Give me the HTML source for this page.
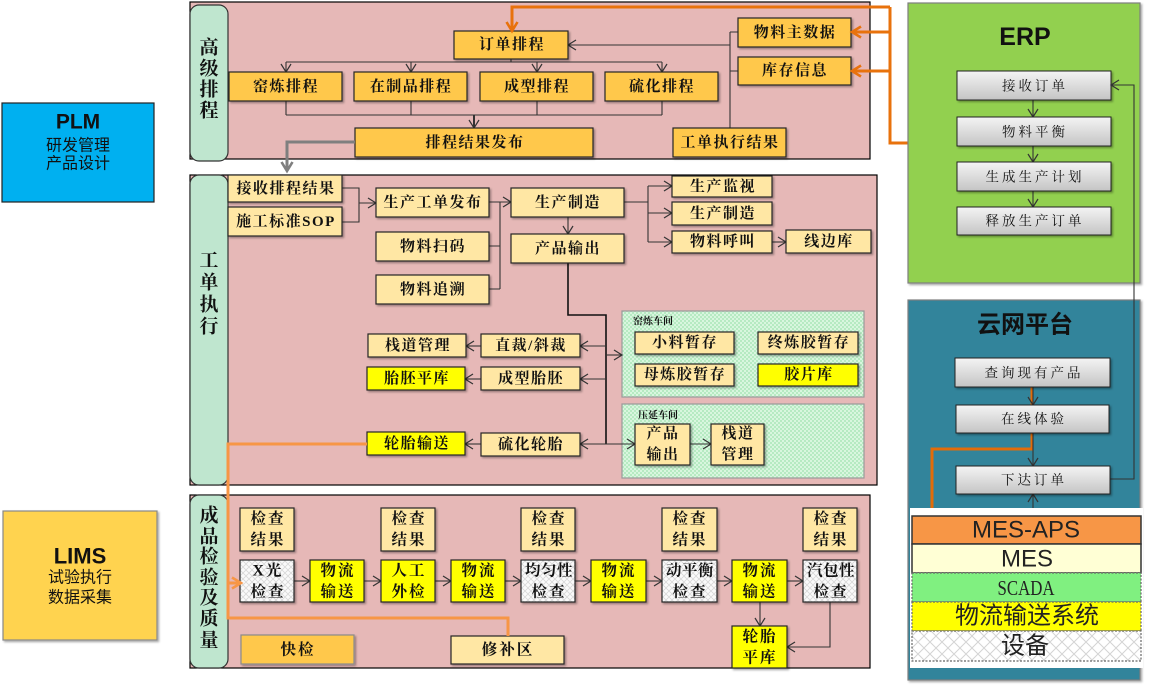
<!DOCTYPE html>
<html><head><meta charset="utf-8">
<style>
html,body{margin:0;padding:0;background:#fff;}
svg{display:block;}
text{dominant-baseline:central;text-anchor:middle;}
.b{font-family:"Liberation Serif","Noto Serif CJK SC",serif;font-weight:700;font-size:15px;fill:#111;letter-spacing:1.5px;}
.b2{font-family:"Liberation Serif","Noto Serif CJK SC",serif;font-weight:700;font-size:15.5px;fill:#111;letter-spacing:2px;}
.v{font-family:"Liberation Serif","Noto Serif CJK SC",serif;font-weight:700;font-size:19px;fill:#111;}
.g{font-family:"Liberation Serif","Noto Serif CJK SC",serif;font-size:13.5px;fill:#111;letter-spacing:3px;}
.sm{font-family:"Liberation Serif","Noto Serif CJK SC",serif;font-weight:700;font-size:10px;fill:#111;text-anchor:start;}
.ttl{font-family:"Liberation Sans","Noto Sans CJK SC",sans-serif;font-weight:700;fill:#111;}
.cn{font-family:"Liberation Sans","Noto Sans CJK SC",sans-serif;font-size:16px;fill:#111;}
.st{font-family:"Liberation Sans","Noto Sans CJK SC",sans-serif;font-size:24px;fill:#222;}
.box{stroke:#262626;stroke-width:1.2;}
.gold{fill:#ffc84b;}
.ly{fill:#ffe7a4;}
.yy{fill:#ffff00;}
.wp{fill:url(#xh);}
.ln{fill:none;stroke:#333;stroke-width:1.1;}
.ar{fill:none;stroke:#333;stroke-width:1.1;marker-end:url(#a);}
</style></head><body>
<svg width="1150" height="690" viewBox="0 0 1150 690" xmlns="http://www.w3.org/2000/svg">
<defs>
<marker id="a" markerWidth="12" markerHeight="12" refX="9" refY="6" orient="auto" markerUnits="userSpaceOnUse"><path d="M1,1 L9,6 L1,11" fill="none" stroke="#333" stroke-width="1.2"/></marker>
<marker id="ao" markerWidth="14" markerHeight="14" refX="11" refY="7" orient="auto" markerUnits="userSpaceOnUse"><path d="M2,1.5 L11,7 L2,12.5" fill="none" stroke="#e8720c" stroke-width="2.6"/></marker>
<marker id="ao2" markerWidth="14" markerHeight="14" refX="11" refY="7" orient="auto" markerUnits="userSpaceOnUse"><path d="M2,1.5 L11,7 L2,12.5" fill="none" stroke="#f79646" stroke-width="2.6"/></marker>
<marker id="ag" markerWidth="14" markerHeight="14" refX="11" refY="7" orient="auto" markerUnits="userSpaceOnUse"><path d="M2,1.5 L11,7 L2,12.5" fill="none" stroke="#7f7f7f" stroke-width="2.6"/></marker>
<pattern id="gk" width="4" height="4" patternUnits="userSpaceOnUse"><rect width="4" height="4" fill="#d8f6de"/><rect width="2" height="2" fill="#b6eac2"/><rect x="2" y="2" width="2" height="2" fill="#b6eac2"/></pattern>
<pattern id="xh" width="6" height="6" patternUnits="userSpaceOnUse"><rect width="6" height="6" fill="#fafafa"/><path d="M0,0 L6,6 M6,0 L0,6" stroke="#d8d8d8" stroke-width="0.8"/></pattern>
<pattern id="xh2" width="12" height="12" patternUnits="userSpaceOnUse"><rect width="12" height="12" fill="#fff"/><path d="M0,0 L12,12 M12,0 L0,12" stroke="#d4d4d4" stroke-width="1"/></pattern>
<linearGradient id="gg" x1="0" y1="0" x2="0" y2="1"><stop offset="0" stop-color="#f4f4f4"/><stop offset="1" stop-color="#c4c4c4"/></linearGradient>
<filter id="sh" x="-10%" y="-10%" width="130%" height="140%"><feDropShadow dx="1.5" dy="1.5" stdDeviation="1" flood-color="#000" flood-opacity="0.35"/></filter>
</defs>

<!-- PLM -->
<rect x="2" y="103" width="152" height="99" fill="#00b0f0" stroke="#222" stroke-width="1.2"/>
<text class="ttl" x="78" y="122" font-size="21">PLM</text>
<text class="cn" x="78" y="146">研发管理</text>
<text class="cn" x="78" y="164">产品设计</text>

<!-- LIMS -->
<rect x="3" y="511" width="154" height="129" fill="#ffd34f" stroke="#888" stroke-width="1.2" filter="url(#sh)"/>
<text class="ttl" x="80" y="556" font-size="22">LIMS</text>
<text class="cn" x="80" y="578">试验执行</text>
<text class="cn" x="80" y="598">数据采集</text>

<!-- ===== TOP PANEL ===== -->
<rect x="190" y="2" width="680" height="157" fill="#e6b8b7" stroke="#000" stroke-width="1.2"/>
<rect x="190" y="5" width="38" height="156" rx="9" fill="#bfe6cf" stroke="#333" stroke-width="1.2"/>
<text class="v" x="209" y="48">高</text><text class="v" x="209" y="69">级</text><text class="v" x="209" y="90">排</text><text class="v" x="209" y="111">程</text>

<g class="ln">
<path d="M511,59 V62 M286,62 H662 M286,101 V115 M411,101 V115 M537,101 V115 M662,101 V115 M286,115 H662 M730,32 V128 M730,32 H738 M730,71 H738"/>
</g>
<path class="ar" d="M286,62 V72"/><path class="ar" d="M411,62 V72"/><path class="ar" d="M537,62 V72"/><path class="ar" d="M662,62 V72"/>
<path class="ar" d="M474,115 V128" style="stroke-width:2"/>
<path class="ar" d="M730,45 H568"/>

<g filter="url(#sh)">
<rect class="box gold" x="454" y="31" width="114" height="28"/>
<rect class="box gold" x="229" y="72" width="113" height="29"/>
<rect class="box gold" x="354" y="72" width="113" height="29"/>
<rect class="box gold" x="480" y="72" width="113" height="29"/>
<rect class="box gold" x="605" y="72" width="113" height="29"/>
<rect class="box gold" x="355" y="128" width="238" height="29"/>
<rect class="box gold" x="738" y="18" width="113" height="29"/>
<rect class="box gold" x="738" y="57" width="113" height="28"/>
<rect class="box gold" x="673" y="128" width="113" height="29"/>
</g>
<text class="b" x="512" y="45">订单排程</text>
<text class="b" x="286" y="87">窑炼排程</text>
<text class="b" x="411" y="87">在制品排程</text>
<text class="b" x="537" y="87">成型排程</text>
<text class="b" x="662" y="87">硫化排程</text>
<text class="b" x="475" y="143">排程结果发布</text>
<text class="b" x="795" y="33">物料主数据</text>
<text class="b" x="795" y="71">库存信息</text>
<text class="b" x="730" y="143">工单执行结果</text>

<!-- orange top lines -->
<path d="M890,7 H512 V31" fill="none" stroke="#e8720c" stroke-width="3" marker-end="url(#ao)"/>
<path d="M890,7 V143 H908" fill="none" stroke="#e8720c" stroke-width="3"/>
<path d="M890,32 H852" fill="none" stroke="#e8720c" stroke-width="3" marker-end="url(#ao)"/>
<path d="M890,71 H852" fill="none" stroke="#e8720c" stroke-width="3" marker-end="url(#ao)"/>

<!-- gray arrow -->
<path d="M355,142 H287 V171" fill="none" stroke="#7f7f7f" stroke-width="3" marker-end="url(#ag)"/>

<!-- ===== MIDDLE PANEL ===== -->
<rect x="190" y="175" width="687" height="310" fill="#e6b8b7" stroke="#000" stroke-width="1.2"/>
<rect x="190" y="175" width="38" height="310" rx="9" fill="#bfe6cf" stroke="#333" stroke-width="1.2"/>
<text class="v" x="209" y="261">工</text><text class="v" x="209" y="283">单</text><text class="v" x="209" y="305">执</text><text class="v" x="209" y="327">行</text>

<!-- workshop panels -->
<rect x="622" y="311" width="242" height="86" fill="url(#gk)" stroke="#9a9a9a" stroke-width="1.2"/>
<rect x="622" y="404" width="242" height="74" fill="url(#gk)" stroke="#9a9a9a" stroke-width="1.2"/>
<text class="sm" x="633" y="322">窑炼车间</text>
<text class="sm" x="638" y="416">压延车间</text>

<g class="ln">
<path d="M342,188 H359 V222 H342 M500,202 V289 M489,246 H500 M489,289 H500 M624,202 H648 M648,186 V242"/>
</g>
<path class="ar" d="M359,203 H376"/>
<path class="ar" d="M489,202 H511"/>
<path class="ar" d="M568,217 V234"/>
<path class="ar" d="M648,186 H672"/><path class="ar" d="M648,213 H672"/><path class="ar" d="M648,242 H672"/>
<path class="ar" d="M772,242 H786"/>
<path d="M568,263 V315 H606 V444" fill="none" stroke="#111" stroke-width="1.6"/>
<path class="ar" d="M606,346 H580"/><path class="ar" d="M606,379 H580"/><path class="ar" d="M606,444 H580"/>
<path class="ar" d="M606,355 H622"/><path class="ar" d="M606,444 H635"/><path class="ar" d="M690,444 H711"/>
<path class="ar" d="M481,346 H466"/><path class="ar" d="M481,379 H465"/><path class="ar" d="M481,444 H465"/>

<g filter="url(#sh)">
<rect class="box ly" x="228" y="175" width="114" height="27"/>
<rect class="box ly" x="228" y="207" width="114" height="29"/>
<rect class="box ly" x="376" y="188" width="113" height="29"/>
<rect class="box ly" x="376" y="232" width="113" height="29"/>
<rect class="box ly" x="376" y="275" width="113" height="29"/>
<rect class="box ly" x="511" y="188" width="113" height="29"/>
<rect class="box ly" x="511" y="234" width="113" height="29"/>
<rect class="box ly" x="672" y="176" width="100" height="21"/>
<rect class="box ly" x="672" y="202" width="100" height="23"/>
<rect class="box ly" x="672" y="231" width="100" height="22"/>
<rect class="box ly" x="786" y="230" width="85" height="23"/>
<rect class="box ly" x="368" y="334" width="98" height="23"/>
<rect class="box ly" x="481" y="334" width="99" height="23"/>
<rect class="box yy" x="367" y="367" width="98" height="23"/>
<rect class="box ly" x="481" y="367" width="99" height="23"/>
<rect class="box yy" x="367" y="432" width="98" height="23"/>
<rect class="box ly" x="481" y="433" width="99" height="23"/>
<rect class="box ly" x="635" y="332" width="99" height="22"/>
<rect class="box ly" x="758" y="332" width="100" height="22"/>
<rect class="box ly" x="635" y="364" width="99" height="22"/>
<rect class="box yy" x="758" y="364" width="100" height="22"/>
<rect class="box ly" x="635" y="424" width="55" height="41"/>
<rect class="box ly" x="711" y="424" width="53" height="41"/>
</g>
<text class="b" x="286" y="189">接收排程结果</text>
<text class="b" x="286" y="222">施工标准SOP</text>
<text class="b" x="433" y="203">生产工单发布</text>
<text class="b" x="433" y="247">物料扫码</text>
<text class="b" x="433" y="290">物料追溯</text>
<text class="b" x="568" y="203">生产制造</text>
<text class="b" x="568" y="249">产品输出</text>
<text class="b" x="723" y="187">生产监视</text>
<text class="b" x="723" y="214">生产制造</text>
<text class="b" x="723" y="242">物料呼叫</text>
<text class="b" x="829" y="242">线边库</text>
<text class="b" x="418" y="346">栈道管理</text>
<text class="b" x="531" y="346">直裁/斜裁</text>
<text class="b" x="417" y="379">胎胚平库</text>
<text class="b" x="531" y="379">成型胎胚</text>
<text class="b" x="417" y="444">轮胎输送</text>
<text class="b" x="531" y="445">硫化轮胎</text>
<text class="b" x="685" y="343">小料暂存</text>
<text class="b" x="809" y="343">终炼胶暂存</text>
<text class="b" x="685" y="375">母炼胶暂存</text>
<text class="b" x="809" y="375">胶片库</text>
<text class="b" x="663" y="434">产品</text><text class="b" x="663" y="455">输出</text>
<text class="b" x="738" y="434">栈道</text><text class="b" x="738" y="455">管理</text>

<!-- ===== BOTTOM PANEL ===== -->
<rect x="190" y="495" width="680" height="173" fill="#e6b8b7" stroke="#000" stroke-width="1.2"/>
<rect x="190" y="495" width="38" height="173" rx="9" fill="#bfe6cf" stroke="#333" stroke-width="1.2"/>
<text class="v" x="209" y="516">成</text><text class="v" x="209" y="537">品</text><text class="v" x="209" y="557">检</text><text class="v" x="209" y="578">验</text><text class="v" x="209" y="598">及</text><text class="v" x="209" y="619">质</text><text class="v" x="209" y="641">量</text>

<path class="ar" d="M294,581 H310"/><path class="ar" d="M364,581 H381"/><path class="ar" d="M435,581 H451"/><path class="ar" d="M505,581 H521"/>
<path class="ar" d="M575,581 H591"/><path class="ar" d="M646,581 H662"/><path class="ar" d="M717,581 H732"/><path class="ar" d="M787,581 H803"/>
<path class="ar" d="M760,602 V626"/>
<path class="ar" d="M830,602 V647 H787"/>

<g filter="url(#sh)">
<rect class="box ly" x="240" y="508" width="54" height="43"/>
<rect class="box ly" x="381" y="508" width="54" height="43"/>
<rect class="box ly" x="521" y="508" width="54" height="43"/>
<rect class="box ly" x="662" y="508" width="55" height="43"/>
<rect class="box ly" x="803" y="508" width="54" height="43"/>
<rect class="box wp" x="240" y="560" width="54" height="42"/>
<rect class="box yy" x="310" y="560" width="54" height="42"/>
<rect class="box yy" x="381" y="560" width="54" height="42"/>
<rect class="box yy" x="451" y="560" width="54" height="42"/>
<rect class="box wp" x="521" y="560" width="54" height="42"/>
<rect class="box yy" x="591" y="560" width="55" height="42"/>
<rect class="box wp" x="662" y="560" width="55" height="42"/>
<rect class="box yy" x="732" y="560" width="55" height="42"/>
<rect class="box wp" x="803" y="560" width="54" height="42"/>
<rect class="box yy" x="732" y="626" width="55" height="42"/>
<rect class="box gold" x="241" y="635" width="113" height="29" style="stroke:#8a8a8a"/>
<rect class="box ly" x="451" y="636" width="113" height="28"/>
</g>
<g class="b2">
<text x="268" y="519">检查</text><text x="268" y="540">结果</text>
<text x="409" y="519">检查</text><text x="409" y="540">结果</text>
<text x="549" y="519">检查</text><text x="549" y="540">结果</text>
<text x="690" y="519">检查</text><text x="690" y="540">结果</text>
<text x="831" y="519">检查</text><text x="831" y="540">结果</text>
<text x="268" y="571">X光</text><text x="268" y="592">检查</text>
<text x="338" y="571">物流</text><text x="338" y="592">输送</text>
<text x="409" y="571">人工</text><text x="409" y="592">外检</text>
<text x="479" y="571">物流</text><text x="479" y="592">输送</text>
<text x="549" y="571" style="letter-spacing:0.5px">均匀性</text><text x="549" y="592">检查</text>
<text x="619" y="571">物流</text><text x="619" y="592">输送</text>
<text x="690" y="571" style="letter-spacing:0.5px">动平衡</text><text x="690" y="592">检查</text>
<text x="760" y="571">物流</text><text x="760" y="592">输送</text>
<text x="831" y="571" style="letter-spacing:0.5px">汽包性</text><text x="831" y="592">检查</text>
<text x="760" y="637">轮胎</text><text x="760" y="658">平库</text>
<text x="298" y="650">快检</text>
<text x="508" y="650">修补区</text>
</g>

<!-- orange line to bottom -->
<path d="M367,444 H228 V618 H508 V636" fill="none" stroke="#f79646" stroke-width="3"/>
<path d="M228,583 H241" fill="none" stroke="#f79646" stroke-width="3" marker-end="url(#ao2)"/>

<!-- ===== ERP ===== -->
<rect x="908" y="3" width="232" height="280" fill="#92d050" stroke="#7f7f7f" stroke-width="1.2" filter="url(#sh)"/>
<text class="ttl" x="1025" y="37" font-size="25">ERP</text>
<path class="ar" d="M1033,100 V117"/><path class="ar" d="M1033,146 V162"/><path class="ar" d="M1033,191 V207"/>
<g filter="url(#sh)">
<rect x="957" y="71" width="154" height="29" fill="url(#gg)" stroke="#222"/>
<rect x="957" y="117" width="154" height="29" fill="url(#gg)" stroke="#222"/>
<rect x="957" y="162" width="154" height="29" fill="url(#gg)" stroke="#222"/>
<rect x="957" y="207" width="154" height="28" fill="url(#gg)" stroke="#222"/>
</g>
<text class="g" x="1035" y="86">接收订单</text>
<text class="g" x="1035" y="132">物料平衡</text>
<text class="g" x="1035" y="177">生成生产计划</text>
<text class="g" x="1035" y="221">释放生产订单</text>

<!-- ===== CLOUD ===== -->
<rect x="908" y="300" width="232" height="380" fill="#31849b" stroke="#7f7f7f" stroke-width="1.2" filter="url(#sh)"/>
<text class="ttl" x="1025" y="325" font-size="24">云网平台</text>
<path d="M1032,387 V449 H932 V510" fill="none" stroke="#e36c09" stroke-width="3"/>
<path class="ar" d="M1033,387 V405"/>
<path class="ar" d="M1033,433 V466"/>
<path class="ar" d="M1033,508 V494"/>
<path class="ar" d="M1110,479 H1134 V85 H1111"/>
<g filter="url(#sh)">
<rect x="955" y="358" width="155" height="29" fill="url(#gg)" stroke="#222"/>
<rect x="956" y="405" width="153" height="28" fill="url(#gg)" stroke="#222"/>
<rect x="956" y="466" width="154" height="28" fill="url(#gg)" stroke="#222"/>
</g>
<text class="g" x="1034" y="373">查询现有产品</text>
<text class="g" x="1034" y="419">在线体验</text>
<text class="g" x="1034" y="480">下达订单</text>

<!-- stack -->
<rect x="910" y="508" width="233" height="160" fill="#fff"/>
<rect x="912" y="516" width="229" height="28" fill="#f79646" stroke="#333" stroke-width="1.5"/>
<rect x="912" y="544" width="229" height="29" fill="#ffffd5" stroke="#333" stroke-width="1.5"/>
<rect x="912" y="573" width="229" height="29" fill="#80f080" stroke="#666" stroke-width="1.2" stroke-dasharray="2,1.5"/>
<rect x="912" y="602" width="229" height="29" fill="#ffff00" stroke="#666" stroke-width="1.2" stroke-dasharray="2,1.5"/>
<rect x="912" y="631" width="229" height="30" fill="url(#xh2)" stroke="#666" stroke-width="1.2" stroke-dasharray="2,1.5"/>
<text class="st" x="1026" y="530">MES-APS</text>
<text class="st" x="1027" y="559">MES</text>
<text x="1026" y="588" font-family="'Liberation Serif',serif" font-size="21" fill="#222" textLength="57" lengthAdjust="spacingAndGlyphs">SCADA</text>
<text class="st" x="1027" y="616" font-size="23">物流输送系统</text>
<text class="st" x="1025" y="646" font-size="22">设备</text>
</svg>
</body></html>
